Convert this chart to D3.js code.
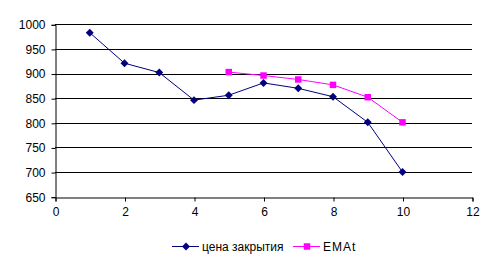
<!DOCTYPE html>
<html>
<head>
<meta charset="utf-8">
<script src="https://cdn.jsdelivr.net/npm/d3@7"></script>
<style>
  body { margin: 0; background: #fff; }
  text { font-family: "Liberation Sans", Arial, sans-serif; font-size: 12px; fill: #000; }
</style>
</head>
<body>
<svg id="chart" width="497" height="263"></svg>
<script>
const days = [1, 2, 3, 4, 5, 6, 7, 8, 9, 10];
const closePrice = [983, 921, 902, 846, 856, 881, 870, 853, 801, 700];
const emaDays = [5, 6, 7, 8, 9, 10];
const emaValues = [903, 896, 888, 877, 852, 801];
const yTicks = [650, 700, 750, 800, 850, 900, 950, 1000];
const xTicks = [0, 2, 4, 6, 8, 10, 12];
const seriesNames = ["цена закрытия", "EMAt"];

const svg = d3.select("#chart");
const x = d3.scaleLinear().domain([0, 12]).range([55, 472]);
const y = d3.scaleLinear().domain([650, 1000]).range([196.7, 24.3]);

// gridlines
svg.append("g")
   .selectAll("line")
   .data(yTicks.slice(1))
   .enter()
   .append("line")
   .attr("x1", x(0)).attr("x2", x(12))
   .attr("y1", d => Math.round(y(d)) + 0.5)
   .attr("y2", d => Math.round(y(d)) + 0.5)
   .attr("stroke", "#000");

let yAxis = d3.axisLeft(y).tickValues(yTicks).tickFormat(d3.format("d")).tickSize(4).tickPadding(6);
svg.append("g")
   .attr("transform", "translate(55.5,0.5)")
   .call(yAxis)
   .call(g => g.selectAll("text").style("font-size", "12px").attr("font-family", null));

let xAxis = d3.axisBottom(x).tickValues(xTicks).tickFormat(d3.format("d")).tickSize(4).tickPadding(6);
svg.append("g")
   .attr("transform", `translate(0.5,${Math.round(y(650)) + 0.5})`)
   .call(xAxis)
   .call(g => g.selectAll("text").style("font-size", "12px").attr("font-family", null));

svg.selectAll(".domain, .tick line").attr("stroke", "#000");

let diamond = d3.symbol().type(d3.symbolDiamond2).size(40);
let square = d3.symbol().type(d3.symbolSquare).size(42);

let line = d3.line().x(d => x(d[0])).y(d => y(d[1]));

let drawSeries = (xs, ys, color, symbol) => {
  let pts = d3.zip(xs, ys);
  svg.append("path")
     .attr("d", line(pts))
     .attr("fill", "none")
     .attr("stroke", color)
     .attr("stroke-width", 1);
  svg.append("g")
     .selectAll("path")
     .data(pts)
     .enter()
     .append("path")
     .attr("d", symbol)
     .attr("fill", color)
     .attr("transform", d => `translate(${x(d[0])},${y(d[1])})`);
};

drawSeries(days, closePrice, "#000080", diamond);
drawSeries(emaDays, emaValues, "#ff00ff", square);

// legend
const legendItems = [
  { name: seriesNames[0], color: "#000080", symbol: diamond, x0: 172 },
  { name: seriesNames[1], color: "#ff00ff", symbol: square, x0: 293 }
];
let legendRows = svg.selectAll(".legend")
   .data(legendItems)
   .enter()
   .append("g")
   .attr("class", "legend")
   .attr("transform", d => `translate(${d.x0},246.5)`);
legendRows.append("line")
   .attr("x1", 0).attr("x2", 27)
   .attr("stroke", d => d.color);
legendRows.append("path")
   .attr("d", d => d.symbol())
   .attr("fill", d => d.color)
   .attr("transform", "translate(14,0)");
legendRows.append("text")
   .attr("x", 30)
   .attr("dy", ".35em")
   .attr("letter-spacing", (d, i) => i === 1 ? "1px" : null)
   .text(d => d.name);
</script>
</body>
</html>
